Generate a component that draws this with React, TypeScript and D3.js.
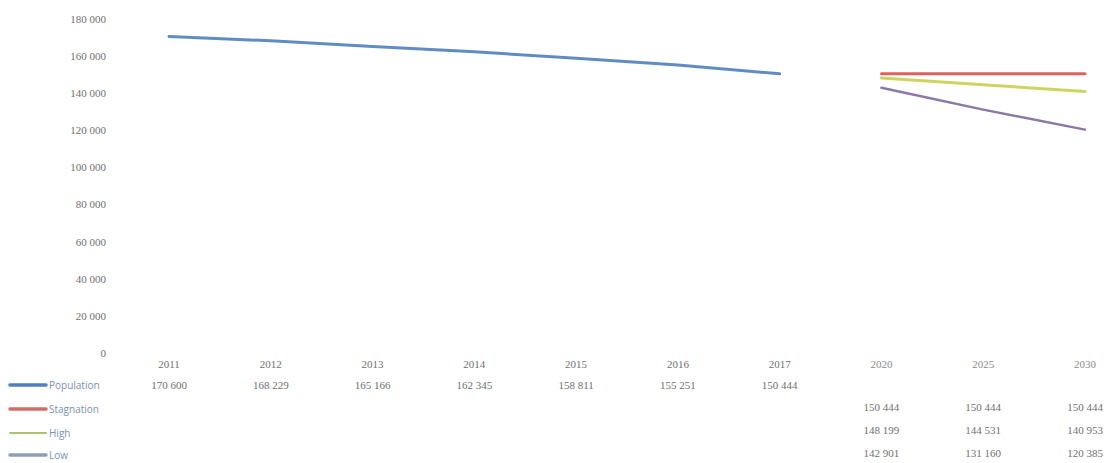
import React from "react";
import * as d3 from "d3";

const years = ["2011", "2012", "2013", "2014", "2015", "2016", "2017", "2020", "2025", "2030"];
const histYears = ["2011", "2012", "2013", "2014", "2015", "2016", "2017"];
const projYears = ["2020", "2025", "2030"];
const population = [170600, 168229, 165166, 162345, 158811, 155251, 150444];
const stagnation = [150444, 150444, 150444];
const high = [148199, 144531, 140953];
const low = [142901, 131160, 120385];
const yTicks = [0, 20000, 40000, 60000, 80000, 100000, 120000, 140000, 160000, 180000];

const W = 1114;
const H = 463;

const fmt = (v: number) => d3.format(",")(v).replace(/,/g, " ");

export default function App() {
  const x = d3.scalePoint<string>().domain(years).range([169, 1085]);
  const y = d3.scaleLinear().domain([0, 180000]).range([353, 19]);
  const line = (cats: string[]) =>
    d3
      .line<number>()
      .x((_, i) => x(cats[i]) as number)
      .y((d) => y(d));

  const series = [
    { name: "Population", cats: histYears, vals: population, color: "#4f7fbe", legend: "#4f7fbe", w: 3 },
    { name: "Stagnation", cats: projYears, vals: stagnation, color: "#d9504c", legend: "#d06e6a", w: 3 },
    { name: "High", cats: projYears, vals: high, color: "#c9cf4c", legend: "#a6c46a", w: 3 },
    { name: "Low", cats: projYears, vals: low, color: "#8068a0", legend: "#8ea0b8", w: 2.5 },
  ];
  const legendY = [385, 409, 433, 455];
  const valueRowY = [385, 407, 430, 453];

  const textStyle: React.CSSProperties = {
    fontFamily: "'Liberation Serif', 'DejaVu Serif', serif",
    fontSize: 11,
    fill: "#707070",
  };

  return (
    <div style={{ position: "absolute", left: 0, top: 0 }}>
      <svg width={W} height={H} style={{ display: "block", background: "#fff" }}>
        {yTicks.map((t) => (
          <text key={t} x={106} y={y(t)} dy="0.35em" textAnchor="end" style={textStyle}>
            {fmt(t)}
          </text>
        ))}
        {years.map((yr, i) => (
          <text
            key={yr}
            x={x(yr) as number}
            y={364}
            dy="0.35em"
            textAnchor="middle"
            style={{ ...textStyle, fill: i >= 7 ? "#8a8a8a" : "#707070" }}
          >
            {yr}
          </text>
        ))}
        {series.map((s) => (
          <path
            key={s.name}
            d={line(s.cats)(s.vals) || ""}
            fill="none"
            stroke={s.color}
            strokeWidth={s.w}
            strokeLinecap="round"
            opacity={0.9}
          />
        ))}
        {series.map((s, si) => (
          <g key={s.name + "-leg"}>
            <line x1={10} x2={46} y1={legendY[si]} y2={legendY[si]} stroke={s.legend} strokeWidth={si === 2 ? 2 : 3.5} strokeLinecap="round" />
            <text x={49} y={legendY[si]} dy="0.35em" style={{ ...textStyle, fontFamily: "'Open Sans', 'DejaVu Sans', sans-serif", fontSize: 10, fill: "#7b8fb0" }}>
              {s.name}
            </text>
            {s.vals.map((v, i) => (
              <text
                key={i}
                x={x(s.cats[i]) as number}
                y={valueRowY[si]}
                dy="0.35em"
                textAnchor="middle"
                style={textStyle}
              >
                {fmt(v)}
              </text>
            ))}
          </g>
        ))}
      </svg>
    </div>
  );
}
